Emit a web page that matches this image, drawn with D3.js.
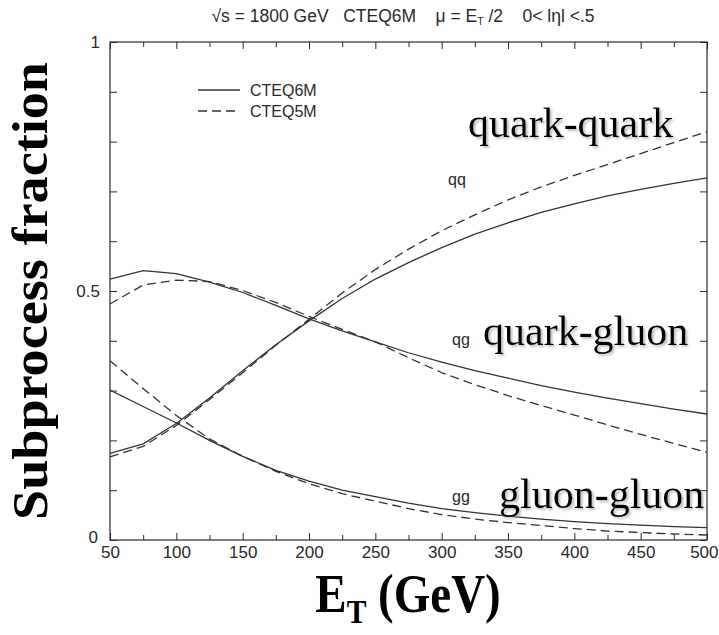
<!DOCTYPE html>
<html>
<head>
<meta charset="utf-8">
<script src="https://cdn.jsdelivr.net/npm/d3@7"></script>
<style>
  html, body { margin: 0; padding: 0; background: #fff; }
  svg { display: block; }
</style>
</head>
<body>
<svg id="chart" width="719" height="635"></svg>
<script>
// Transverse energy grid (GeV)
const et = [50, 75, 100, 125, 150, 175, 200, 225, 250, 275, 300, 325, 350, 375, 400, 425, 450, 475, 500];

// Subprocess fractions, CTEQ6M (solid)
const qq6 = [0.174, 0.193, 0.234, 0.285, 0.340, 0.392, 0.440, 0.485, 0.524, 0.557, 0.587, 0.614, 0.637, 0.658, 0.675, 0.691, 0.704, 0.716, 0.727];
const qg6 = [0.524, 0.541, 0.535, 0.518, 0.497, 0.471, 0.444, 0.420, 0.398, 0.376, 0.357, 0.340, 0.325, 0.310, 0.297, 0.285, 0.274, 0.263, 0.253];
const gg6 = [0.301, 0.268, 0.235, 0.200, 0.168, 0.140, 0.118, 0.100, 0.087, 0.074, 0.063, 0.055, 0.048, 0.042, 0.037, 0.033, 0.030, 0.027, 0.025];

// Subprocess fractions, CTEQ5M (dashed)
const qq5 = [0.167, 0.188, 0.230, 0.282, 0.336, 0.391, 0.443, 0.496, 0.543, 0.584, 0.621, 0.653, 0.683, 0.709, 0.732, 0.754, 0.776, 0.798, 0.820];
const qg5 = [0.474, 0.512, 0.522, 0.519, 0.501, 0.477, 0.449, 0.423, 0.398, 0.366, 0.336, 0.312, 0.290, 0.270, 0.251, 0.231, 0.212, 0.194, 0.176];
const gg5 = [0.360, 0.304, 0.250, 0.203, 0.168, 0.138, 0.113, 0.093, 0.078, 0.063, 0.051, 0.042, 0.035, 0.029, 0.023, 0.018, 0.015, 0.012, 0.010];

// Axis ticks
const xTicks = [50, 75, 100, 125, 150, 175, 200, 225, 250, 275, 300, 325, 350, 375, 400, 425, 450, 475, 500];
const xLabels = [50, 100, 150, 200, 250, 300, 350, 400, 450, 500];
const yTicks = [0, 0.1, 0.2, 0.3, 0.4, 0.5, 0.6, 0.7, 0.8, 0.9, 1];
const yLabels = [0, 0.5, 1];

const series = [
  { name: "CTEQ6M", dash: null, curves: [qq6, qg6, gg6] },
  { name: "CTEQ5M", dash: "9,5", curves: [qq5, qg5, gg5] }
];

const svg = d3.select("#chart");
const sans = "'Liberation Sans', Arial, Helvetica, sans-serif";
const serif = "'Liberation Serif', 'Times New Roman', serif";
const ink = "#2a2a2a";

// Soft shadow for the subprocess names
const defs = svg.append("defs");
defs.append("filter").attr("id", "soft-shadow")
  .attr("x", "-5%").attr("y", "-20%").attr("width", "115%").attr("height", "150%")
  .append("feDropShadow")
  .attr("dx", 2).attr("dy", 2).attr("stdDeviation", 0.9)
  .attr("flood-color", "#8a8a8a").attr("flood-opacity", 0.55);

const x = d3.scaleLinear().domain([50, 500]).range([110, 707]);
const y = d3.scaleLinear().domain([0, 1]).range([540, 42]);

// Frame
svg.append("rect")
  .attr("x", x(50)).attr("y", y(1))
  .attr("width", x(500) - x(50)).attr("height", y(0) - y(1))
  .attr("fill", "none").attr("stroke", ink).attr("stroke-width", 1.2);

function styleTicks(g, majorSet, longLen, shortLen, sign, horiz) {
  g.select(".domain").remove();
  g.selectAll(".tick line")
    .attr("stroke", ink).attr("stroke-width", 1)
    .each(function (d) {
      const len = majorSet.some(v => Math.abs(v - d) < 1e-9) ? longLen : shortLen;
      if (horiz) d3.select(this).attr("y2", sign * len);
      else d3.select(this).attr("x2", sign * len);
    });
}

// Bottom axis (labelled)
const gx = svg.append("g").attr("transform", `translate(0,${y(0)})`)
  .call(d3.axisBottom(x).tickValues(xTicks).tickSizeInner(-6).tickSizeOuter(0)
    .tickFormat(d => xLabels.includes(d) ? String(d) : ""));
styleTicks(gx, xLabels, 7, 5, -1, true);
gx.selectAll(".tick text").attr("font-family", sans).attr("font-size", 17).attr("fill", ink)
  .attr("y", 6).attr("dy", "0.71em");
// last label sits at the window edge: keep it inside
gx.selectAll(".tick").filter(d => d === 500).select("text")
  .attr("text-anchor", "end").attr("x", 11);

// Top axis (ticks only)
const gxt = svg.append("g").attr("transform", `translate(0,${y(1)})`)
  .call(d3.axisTop(x).tickValues(xTicks).tickSizeOuter(0).tickFormat(""));
styleTicks(gxt, xLabels, 7, 5, 1, true);

// Left axis (labelled)
const gy = svg.append("g").attr("transform", `translate(${x(50)},0)`)
  .call(d3.axisLeft(y).tickValues(yTicks).tickSizeOuter(0)
    .tickFormat(d => yLabels.some(v => Math.abs(v - d) < 1e-9) ? String(+d.toFixed(1)) : ""));
styleTicks(gy, yTicks, 7, 7, 1, false);
gy.selectAll(".tick text").attr("font-family", sans).attr("font-size", 17).attr("fill", ink)
  .attr("x", -10);
gy.selectAll(".tick").filter(d => d === 0).select("text").attr("x", -12).attr("dy", "0.15em");

// Right axis (ticks only)
const gyr = svg.append("g").attr("transform", `translate(${x(500)},0)`)
  .call(d3.axisRight(y).tickValues(yTicks).tickSizeOuter(0).tickFormat(""));
styleTicks(gyr, yTicks, 7, 7, -1, false);

// Curves
const line = d3.line().x((d, i) => x(et[i])).y(d => y(d));
const plot = svg.append("g");
series.forEach(s => {
  s.curves.forEach(vals => {
    plot.append("path")
      .attr("d", line(vals))
      .attr("fill", "none")
      .attr("stroke", "#333")
      .attr("stroke-width", 1.3)
      .attr("stroke-dasharray", s.dash);
  });
});

// Legend
const legend = svg.append("g");
series.forEach((s, i) => {
  const ly = 90 + i * 21;
  legend.append("line")
    .attr("x1", 198).attr("x2", 240).attr("y1", ly).attr("y2", ly)
    .attr("stroke", "#333").attr("stroke-width", 1.3)
    .attr("stroke-dasharray", s.dash);
  legend.append("text")
    .attr("x", 250).attr("y", ly + 6)
    .attr("font-family", sans).attr("font-size", 16).attr("fill", ink)
    .text(s.name);
});

// Header line
const title = svg.append("text")
  .attr("x", 403).attr("y", 22).attr("text-anchor", "middle")
  .attr("font-family", sans).attr("font-size", 17.5).attr("fill", ink)
  .attr("xml:space", "preserve");
title.append("tspan").text("\u221As = 1800 GeV   CTEQ6M    \u03BC = E");
title.append("tspan").attr("font-size", 10.5).attr("dy", 3).text("T");
title.append("tspan").attr("dy", -3).text(" /2    0< l\u03B7l <.5");

// Small curve tags
const tags = [
  { t: "qq", x: 448, y: 185 },
  { t: "qg", x: 452, y: 345 },
  { t: "gg", x: 452, y: 502 }
];
svg.append("g").selectAll("text").data(tags).join("text")
  .attr("x", d => d.x).attr("y", d => d.y)
  .attr("font-family", sans).attr("font-size", 16).attr("fill", ink)
  .text(d => d.t);

// Subprocess names
const names = [
  { t: "quark-quark", x: 468, y: 137 },
  { t: "quark-gluon", x: 483, y: 345 },
  { t: "gluon-gluon", x: 499, y: 508 }
];
svg.append("g").selectAll("text").data(names).join("text")
  .attr("x", d => d.x).attr("y", d => d.y)
  .attr("font-family", serif).attr("font-size", 42).attr("fill", "#000")
  .attr("filter", "url(#soft-shadow)")
  .text(d => d.t);

// Axis titles
svg.append("text")
  .attr("transform", "translate(47,291) rotate(-90)")
  .attr("text-anchor", "middle")
  .attr("font-family", serif).attr("font-weight", "bold").attr("font-size", 50)
  .attr("textLength", 458).attr("lengthAdjust", "spacingAndGlyphs")
  .attr("fill", "#000")
  .text("Subprocess fraction");

const xt = svg.append("g").attr("transform", "translate(408,612) scale(0.87,1)")
  .append("text")
  .attr("x", 0).attr("y", 0).attr("text-anchor", "middle")
  .attr("font-family", serif).attr("font-weight", "bold").attr("font-size", 54)
  .attr("fill", "#000");
xt.append("tspan").text("E");
xt.append("tspan").attr("font-size", 34).attr("dy", 11).text("T");
xt.append("tspan").attr("dy", -11).text(" (GeV)");
</script>
</body>
</html>
